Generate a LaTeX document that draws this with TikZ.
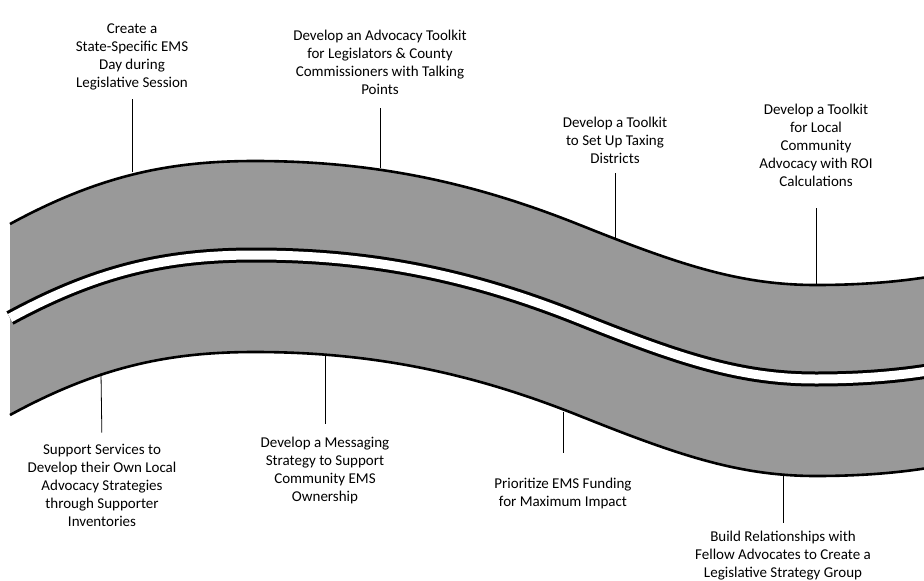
\documentclass[tikz,border=0pt]{standalone}
\usepackage{fontspec}
\setmainfont{Carlito}
\usepackage{xcolor}
\usetikzlibrary{positioning}
\definecolor{roadgray}{RGB}{153,153,153}

\begin{document}
\begin{tikzpicture}[x=1pt, y=-1pt,
    milestone/.style={font=\fontsize{15}{18}\selectfont, align=center, inner sep=0pt},
    leader/.style={draw=black, line width=0.8pt}]
    \useasboundingbox (0,0) rectangle (924,581);

    % Road surface
    \fill[roadgray] (10,224) .. controls (100,175) and (170,161) .. (255,161)
        .. controls (380,161) and (480,185) .. (580,225)
        .. controls (680,265) and (740,285) .. (816,285)
        .. controls (860,285) and (900,282) .. (940,275)
        -- (940,466) .. controls (900,473) and (860,476) .. (816,476)
        .. controls (740,476) and (680,456) .. (580,416)
        .. controls (480,376) and (380,352) .. (255,352)
        .. controls (170,352) and (100,366) .. (10,415) -- cycle;

    % Road edges and centre line
    \foreach \dy/\w/\c in {0/2.6/black, 191/2.6/black, 94/15/black, 94/9/white}
        \draw[line width=\w pt, draw=\c, yshift=-\dy pt] (10,224)
            .. controls (100,175) and (170,161) .. (255,161)
            .. controls (380,161) and (480,185) .. (580,225)
            .. controls (680,265) and (740,285) .. (816,285)
            .. controls (860,285) and (900,282) .. (940,275);

    % Points on the road
    \coordinate (r1) at (132,172);
    \coordinate (r2) at (380,168);
    \coordinate (r3) at (615,238);
    \coordinate (r4) at (816,285);
    \coordinate (r5) at (101,373);
    \coordinate (r6) at (325,354);
    \coordinate (r7) at (563,412);
    \coordinate (r8) at (783,475);

    % Milestones above the road
    \node[milestone] (t1) at (132,57) {Create a\\State-Specific EMS\\Day during\\Legislative Session};
    \node[milestone] (t2) at (380,62) {Develop an Advocacy Toolkit\\for Legislators \& County\\Commissioners with Talking\\Points};
    \node[milestone] (t3) at (615,140) {Develop a Toolkit\\to Set Up Taxing\\Districts};
    \node[milestone] (t4) at (816,145) {Develop a Toolkit\\for Local\\Community\\Advocacy with ROI\\Calculations};

    % Milestones below the road
    \node[milestone] (t5) at (102,485) {Support Services to\\Develop their Own Local\\Advocacy Strategies\\through Supporter\\Inventories};
    \node[milestone] (t6) at (325,470) {Develop a Messaging\\Strategy to Support\\Community EMS\\Ownership};
    \node[milestone] (t7) at (563,493) {Prioritize EMS Funding\\for Maximum Impact};
    \node[milestone] (t8) at (783,556) {Build Relationships with\\Fellow Advocates to Create a\\Legislative Strategy Group};

    % Leader lines
    \draw[leader, shorten >=9pt] (r1) -- (t1.south);
    \draw[leader, shorten >=14pt] (r2) -- (t2.south);
    \draw[leader, shorten >=10pt] (r3) -- (t3.south);
    \draw[leader, shorten >=22pt] (r4) -- (t4.south);
    \draw[leader, shorten >=11pt] (r5) -- (t5.north);
    \draw[leader, shorten >=12pt] (r6) -- (t6.north);
    \draw[leader, shorten >=24pt] (r7) -- (t7.north);
    \draw[leader, shorten >=8pt] (r8) -- (t8.north);
\end{tikzpicture}
\end{document}
